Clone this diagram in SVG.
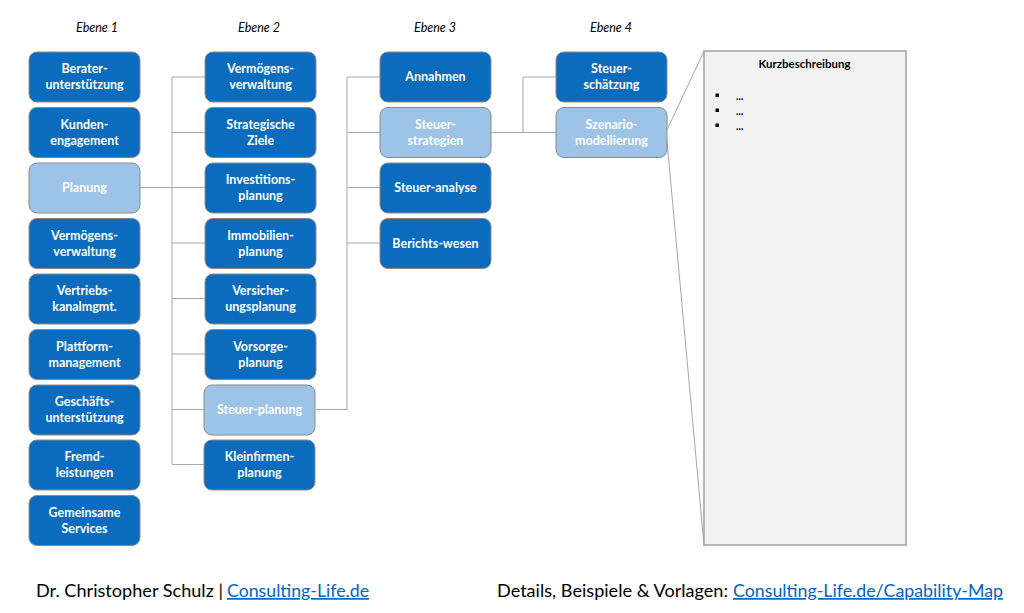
<svg xmlns="http://www.w3.org/2000/svg" width="1024" height="613" viewBox="0 0 1024 613">
<style>
.box{fill:#0B6CBE;stroke:#8a8a8a;stroke-width:1}
.sel{fill:#9DC3E6;stroke:#8a8a8a;stroke-width:1}
.t{font-family:Lato,"Liberation Sans",sans-serif;font-weight:bold;font-size:12.5px;fill:#ffffff;text-anchor:middle}
.h{font-family:Lato,"Liberation Sans",sans-serif;font-style:italic;font-size:12.5px;fill:#000;text-anchor:middle}
.c{fill:none;stroke:#a6a6a6;stroke-width:1}
.f{font-family:Lato,"Liberation Sans",sans-serif;font-size:17px;fill:#000}
.l{font-family:Lato,"Liberation Sans",sans-serif;font-size:17px;fill:#0563C1;text-decoration:underline}
.d{font-family:Lato,"Liberation Sans",sans-serif;font-weight:bold;font-size:10.5px;fill:#000}
</style>
<rect width="1024" height="613" fill="#ffffff"/>
<g id="headers">
<text class="h" x="97" y="32">Ebene 1</text>
<text class="h" x="259" y="32">Ebene 2</text>
<text class="h" x="435" y="32">Ebene 3</text>
<text class="h" x="611" y="32">Ebene 4</text>
</g>
<g id="connectors">
<path class="c" d="M140 187.5H172M172 77V464.5M172 77H205M172 132.5H205M172 187.5H205M172 243H205M172 298.5H205M172 354H205M172 409.5H205M172 464.5H205"/>
<path class="c" d="M316 409.5H347M347 77V409.5M347 77H380M347 132.5H380M347 187.5H380M347 243H380"/>
<path class="c" d="M491 132.5H523M523 77V132.5M523 77H556M523 132.5H556"/>
<path class="c" d="M667 130L704 51M667 141L704 545"/>
</g>
<g id="n1"><rect class="box" x="29" y="52" width="111" height="50" rx="8"/><text class="t" x="84.5" y="73">Berater-</text><text class="t" x="84.5" y="89">unterstützung</text></g>
<g id="n2"><rect class="box" x="29" y="107.5" width="111" height="50" rx="8"/><text class="t" x="84.5" y="128.5">Kunden-</text><text class="t" x="84.5" y="144.5">engagement</text></g>
<g id="n3"><rect class="sel" x="29" y="163" width="111" height="50" rx="8"/><text class="t" x="84.5" y="192">Planung</text></g>
<g id="n4"><rect class="box" x="29" y="218.5" width="111" height="50" rx="8"/><text class="t" x="84.5" y="239.5">Vermögens-</text><text class="t" x="84.5" y="255.5">verwaltung</text></g>
<g id="n5"><rect class="box" x="29" y="274" width="111" height="50" rx="8"/><text class="t" x="84.5" y="295">Vertriebs-</text><text class="t" x="84.5" y="311">kanalmgmt.</text></g>
<g id="n6"><rect class="box" x="29" y="329.5" width="111" height="50" rx="8"/><text class="t" x="84.5" y="350.5">Plattform-</text><text class="t" x="84.5" y="366.5">management</text></g>
<g id="n7"><rect class="box" x="29" y="385" width="111" height="50" rx="8"/><text class="t" x="84.5" y="406">Geschäfts-</text><text class="t" x="84.5" y="422">unterstützung</text></g>
<g id="n8"><rect class="box" x="29" y="440" width="111" height="50" rx="8"/><text class="t" x="84.5" y="461">Fremd-</text><text class="t" x="84.5" y="477">leistungen</text></g>
<g id="n9"><rect class="box" x="29" y="495.5" width="111" height="50" rx="8"/><text class="t" x="84.5" y="516.5">Gemeinsame</text><text class="t" x="84.5" y="532.5">Services</text></g>

<g id="m1"><rect class="box" x="205" y="52" width="111" height="50" rx="8"/><text class="t" x="260.5" y="73">Vermögens-</text><text class="t" x="260.5" y="89">verwaltung</text></g>
<g id="m2"><rect class="box" x="205" y="107.5" width="111" height="50" rx="8"/><text class="t" x="260.5" y="128.5">Strategische</text><text class="t" x="260.5" y="144.5">Ziele</text></g>
<g id="m3"><rect class="box" x="205" y="163" width="111" height="50" rx="8"/><text class="t" x="260.5" y="184">Investitions-</text><text class="t" x="260.5" y="200">planung</text></g>
<g id="m4"><rect class="box" x="205" y="218.5" width="111" height="50" rx="8"/><text class="t" x="260.5" y="239.5">Immobilien-</text><text class="t" x="260.5" y="255.5">planung</text></g>
<g id="m5"><rect class="box" x="205" y="274" width="111" height="50" rx="8"/><text class="t" x="260.5" y="295">Versicher-</text><text class="t" x="260.5" y="311">ungsplanung</text></g>
<g id="m6"><rect class="box" x="205" y="329.5" width="111" height="50" rx="8"/><text class="t" x="260.5" y="350.5">Vorsorge-</text><text class="t" x="260.5" y="366.5">planung</text></g>
<g id="m7"><rect class="sel" x="204" y="385" width="111" height="50" rx="8"/><text class="t" x="259.5" y="413.5">Steuer-planung</text></g>
<g id="m8"><rect class="box" x="204" y="440" width="111" height="50" rx="8"/><text class="t" x="259.5" y="461">Kleinfirmen-</text><text class="t" x="259.5" y="477">planung</text></g>

<g id="k1"><rect class="box" x="380" y="52" width="111" height="50" rx="8"/><text class="t" x="435.5" y="81">Annahmen</text></g>
<g id="k2"><rect class="sel" x="380" y="107.5" width="111" height="50" rx="8"/><text class="t" x="435.5" y="128.5">Steuer-</text><text class="t" x="435.5" y="144.5">strategien</text></g>
<g id="k3"><rect class="box" x="380" y="163" width="111" height="50" rx="8"/><text class="t" x="435.5" y="192">Steuer-analyse</text></g>
<g id="k4"><rect class="box" x="380" y="218.5" width="111" height="50" rx="8"/><text class="t" x="435.5" y="247.5">Berichts-wesen</text></g>

<g id="s1"><rect class="box" x="556" y="52" width="111" height="50" rx="8"/><text class="t" x="611.5" y="73">Steuer-</text><text class="t" x="611.5" y="89">schätzung</text></g>
<g id="s2"><rect class="sel" x="556" y="107.5" width="111" height="50" rx="8"/><text class="t" x="611.5" y="128.5">Szenario-</text><text class="t" x="611.5" y="144.5">modellierung</text></g>

<g id="desc">
<rect x="704" y="51" width="202" height="494" fill="#f2f2f2" stroke="#a0a0a0" stroke-width="1.5"/>
<text x="804.5" y="68" style="font-family:Lato,'Liberation Sans',sans-serif;font-weight:bold;font-size:11.5px;fill:#000;text-anchor:middle">Kurzbeschreibung</text>
<rect x="715.5" y="93.5" width="3.5" height="3.5" fill="#000"/>
<rect x="715.5" y="108.5" width="3.5" height="3.5" fill="#000"/>
<rect x="715.5" y="123.5" width="3.5" height="3.5" fill="#000"/>
<text class="d" x="736" y="100">...</text>
<text class="d" x="736" y="115">...</text>
<text class="d" x="736" y="130">...</text>
</g>

<g id="footer">
<text class="f" x="36" y="597" textLength="187" lengthAdjust="spacingAndGlyphs">Dr. Christopher Schulz |</text>
<text class="l" x="227" y="597" textLength="142" lengthAdjust="spacingAndGlyphs">Consulting-Life.de</text>
<text class="f" x="497" y="597" textLength="231" lengthAdjust="spacingAndGlyphs">Details, Beispiele &amp; Vorlagen:</text>
<text class="l" x="733" y="597" textLength="270" lengthAdjust="spacingAndGlyphs">Consulting-Life.de/Capability-Map</text>
</g>
</svg>
